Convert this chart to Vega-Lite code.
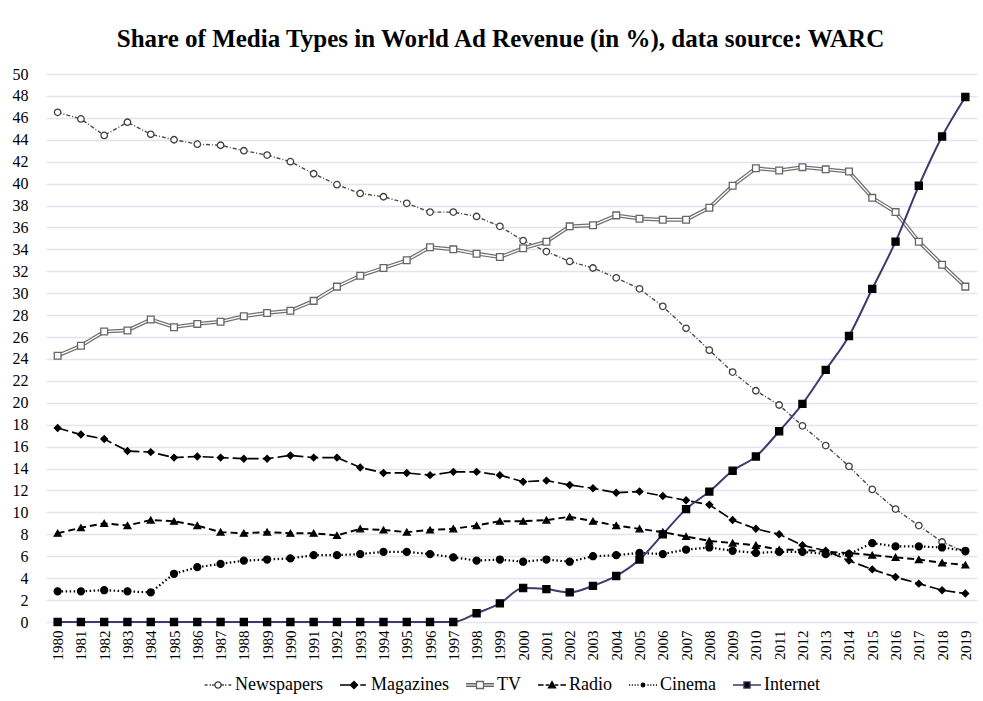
{
  "$schema": "https://vega.github.io/schema/vega-lite/v6.json",
  "width": 931,
  "height": 548,
  "autosize": {"type": "none"},
  "padding": {"left": 46, "top": 74, "right": 6, "bottom": 79},
  "background": "white",
  "title": {
    "text": "Share of Media Types in World Ad Revenue (in %), data source: WARC",
    "font": "Liberation Serif",
    "fontSize": 25,
    "fontWeight": "bold",
    "color": "#000000",
    "anchor": "middle",
    "baseline": "alphabetic",
    "offset": -6,
    "dx": -11
  },
  "data": {
    "values": [
      {"year": 1980, "Newspapers": 46.5, "Magazines": 17.7, "TV": 24.3, "Radio": 8.1, "Cinema": 2.8, "Internet": 0},
      {"year": 1981, "Newspapers": 45.9, "Magazines": 17.1, "TV": 25.2, "Radio": 8.6, "Cinema": 2.8, "Internet": 0},
      {"year": 1982, "Newspapers": 44.4, "Magazines": 16.7, "TV": 26.5, "Radio": 9.0, "Cinema": 2.9, "Internet": 0},
      {"year": 1983, "Newspapers": 45.6, "Magazines": 15.6, "TV": 26.6, "Radio": 8.8, "Cinema": 2.8, "Internet": 0},
      {"year": 1984, "Newspapers": 44.5, "Magazines": 15.5, "TV": 27.6, "Radio": 9.3, "Cinema": 2.7, "Internet": 0},
      {"year": 1985, "Newspapers": 44.0, "Magazines": 15.0, "TV": 26.9, "Radio": 9.2, "Cinema": 4.4, "Internet": 0},
      {"year": 1986, "Newspapers": 43.6, "Magazines": 15.1, "TV": 27.2, "Radio": 8.8, "Cinema": 5.0, "Internet": 0},
      {"year": 1987, "Newspapers": 43.5, "Magazines": 15.0, "TV": 27.4, "Radio": 8.2, "Cinema": 5.3, "Internet": 0},
      {"year": 1988, "Newspapers": 43.0, "Magazines": 14.9, "TV": 27.9, "Radio": 8.1, "Cinema": 5.6, "Internet": 0},
      {"year": 1989, "Newspapers": 42.6, "Magazines": 14.9, "TV": 28.2, "Radio": 8.2, "Cinema": 5.7, "Internet": 0},
      {"year": 1990, "Newspapers": 42.0, "Magazines": 15.2, "TV": 28.4, "Radio": 8.1, "Cinema": 5.8, "Internet": 0},
      {"year": 1991, "Newspapers": 40.9, "Magazines": 15.0, "TV": 29.3, "Radio": 8.1, "Cinema": 6.1, "Internet": 0},
      {"year": 1992, "Newspapers": 39.9, "Magazines": 15.0, "TV": 30.6, "Radio": 7.9, "Cinema": 6.1, "Internet": 0},
      {"year": 1993, "Newspapers": 39.1, "Magazines": 14.1, "TV": 31.6, "Radio": 8.5, "Cinema": 6.2, "Internet": 0},
      {"year": 1994, "Newspapers": 38.8, "Magazines": 13.6, "TV": 32.3, "Radio": 8.4, "Cinema": 6.4, "Internet": 0},
      {"year": 1995, "Newspapers": 38.2, "Magazines": 13.6, "TV": 33.0, "Radio": 8.2, "Cinema": 6.4, "Internet": 0},
      {"year": 1996, "Newspapers": 37.4, "Magazines": 13.4, "TV": 34.2, "Radio": 8.4, "Cinema": 6.2, "Internet": 0},
      {"year": 1997, "Newspapers": 37.4, "Magazines": 13.7, "TV": 34.0, "Radio": 8.5, "Cinema": 5.9, "Internet": 0},
      {"year": 1998, "Newspapers": 37.0, "Magazines": 13.7, "TV": 33.6, "Radio": 8.8, "Cinema": 5.6, "Internet": 0.8},
      {"year": 1999, "Newspapers": 36.1, "Magazines": 13.4, "TV": 33.3, "Radio": 9.2, "Cinema": 5.7, "Internet": 1.7},
      {"year": 2000, "Newspapers": 34.8, "Magazines": 12.8, "TV": 34.1, "Radio": 9.2, "Cinema": 5.5, "Internet": 3.1},
      {"year": 2001, "Newspapers": 33.8, "Magazines": 12.9, "TV": 34.7, "Radio": 9.3, "Cinema": 5.7, "Internet": 3.0},
      {"year": 2002, "Newspapers": 32.9, "Magazines": 12.5, "TV": 36.1, "Radio": 9.6, "Cinema": 5.5, "Internet": 2.7},
      {"year": 2003, "Newspapers": 32.3, "Magazines": 12.2, "TV": 36.2, "Radio": 9.2, "Cinema": 6.0, "Internet": 3.3},
      {"year": 2004, "Newspapers": 31.4, "Magazines": 11.8, "TV": 37.1, "Radio": 8.8, "Cinema": 6.1, "Internet": 4.2},
      {"year": 2005, "Newspapers": 30.4, "Magazines": 11.9, "TV": 36.8, "Radio": 8.5, "Cinema": 6.3, "Internet": 5.7},
      {"year": 2006, "Newspapers": 28.8, "Magazines": 11.5, "TV": 36.7, "Radio": 8.2, "Cinema": 6.2, "Internet": 8.0},
      {"year": 2007, "Newspapers": 26.8, "Magazines": 11.1, "TV": 36.7, "Radio": 7.8, "Cinema": 6.6, "Internet": 10.3},
      {"year": 2008, "Newspapers": 24.8, "Magazines": 10.7, "TV": 37.8, "Radio": 7.4, "Cinema": 6.8, "Internet": 11.9},
      {"year": 2009, "Newspapers": 22.8, "Magazines": 9.3, "TV": 39.8, "Radio": 7.2, "Cinema": 6.5, "Internet": 13.8},
      {"year": 2010, "Newspapers": 21.1, "Magazines": 8.5, "TV": 41.4, "Radio": 7.0, "Cinema": 6.3, "Internet": 15.1},
      {"year": 2011, "Newspapers": 19.8, "Magazines": 8.0, "TV": 41.2, "Radio": 6.6, "Cinema": 6.4, "Internet": 17.4},
      {"year": 2012, "Newspapers": 17.9, "Magazines": 7.0, "TV": 41.5, "Radio": 6.6, "Cinema": 6.4, "Internet": 19.9},
      {"year": 2013, "Newspapers": 16.1, "Magazines": 6.5, "TV": 41.3, "Radio": 6.4, "Cinema": 6.2, "Internet": 23.0},
      {"year": 2014, "Newspapers": 14.2, "Magazines": 5.6, "TV": 41.1, "Radio": 6.3, "Cinema": 6.2, "Internet": 26.1},
      {"year": 2015, "Newspapers": 12.1, "Magazines": 4.8, "TV": 38.7, "Radio": 6.1, "Cinema": 7.2, "Internet": 30.4},
      {"year": 2016, "Newspapers": 10.3, "Magazines": 4.1, "TV": 37.4, "Radio": 5.9, "Cinema": 6.9, "Internet": 34.7},
      {"year": 2017, "Newspapers": 8.8, "Magazines": 3.5, "TV": 34.7, "Radio": 5.7, "Cinema": 6.9, "Internet": 39.8},
      {"year": 2018, "Newspapers": 7.3, "Magazines": 2.9, "TV": 32.6, "Radio": 5.4, "Cinema": 6.8, "Internet": 44.3},
      {"year": 2019, "Newspapers": 6.4, "Magazines": 2.6, "TV": 30.6, "Radio": 5.2, "Cinema": 6.5, "Internet": 47.9}
    ]
  },
  "transform": [
    {"fold": ["Newspapers", "Magazines", "TV", "Radio", "Cinema", "Internet"], "as": ["series", "value"]}
  ],
  "encoding": {
    "x": {
      "field": "year",
      "type": "ordinal",
      "scale": {"type": "point", "padding": 0.5},
      "axis": {
        "title": null,
        "labelAngle": 270,
        "labelFont": "Liberation Serif",
        "labelFontSize": 15,
        "labelColor": "#000000",
        "ticks": false,
        "domain": false,
        "labelPadding": 8
      }
    },
    "y": {
      "field": "value",
      "type": "quantitative",
      "scale": {"domain": [0, 50], "nice": false},
      "axis": {
        "title": null,
        "values": [0, 2, 4, 6, 8, 10, 12, 14, 16, 18, 20, 22, 24, 26, 28, 30, 32, 34, 36, 38, 40, 42, 44, 46, 48, 50],
        "grid": true,
        "gridColor": "#E3E3F3",
        "gridWidth": 1.5,
        "domain": false,
        "ticks": false,
        "labelFont": "Liberation Serif",
        "labelFontSize": 16,
        "labelColor": "#000000",
        "labelPadding": 18
      }
    }
  },
  "layer": [
    {
      "transform": [{"filter": {"field": "series", "oneOf": ["Newspapers", "Magazines", "Radio", "Cinema"]}}],
      "mark": {"type": "line"},
      "encoding": {
        "color": {"field": "series", "type": "nominal", "scale": {"domain": ["Newspapers", "Magazines", "Radio", "Cinema"], "range": ["#4a4a4a", "#000000", "#000000", "#000000"]}, "legend": null},
        "strokeDash": {"field": "series", "type": "nominal", "scale": {"domain": ["Newspapers", "Magazines", "Radio", "Cinema"], "range": [[4, 2, 1, 2], [11, 4], [7, 4], [1.5, 2.5]]}, "legend": null},
        "strokeWidth": {"field": "series", "type": "ordinal", "scale": {"domain": ["Newspapers", "Magazines", "Radio", "Cinema"], "range": [1.4, 2.2, 1.6, 1.8]}, "legend": null}
      }
    },
    {
      "transform": [{"filter": {"field": "series", "equal": "TV"}}],
      "mark": {"type": "line", "color": "#707070", "strokeWidth": 3.8}
    },
    {
      "transform": [{"filter": {"field": "series", "equal": "TV"}}],
      "mark": {"type": "line", "color": "#ffffff", "strokeWidth": 1.3}
    },
    {
      "transform": [{"filter": {"field": "series", "equal": "Internet"}}],
      "mark": {"type": "line", "color": "#3C3A6E", "strokeWidth": 2, "interpolate": "monotone"}
    },
    {
      "mark": {"type": "point", "opacity": 1, "strokeWidth": 1.3},
      "encoding": {
        "shape": {"field": "series", "type": "nominal", "scale": {"domain": ["Newspapers", "Magazines", "TV", "Radio", "Cinema", "Internet"], "range": ["circle", "diamond", "square", "triangle-up", "circle", "square"]}, "legend": null},
        "fill": {"field": "series", "type": "nominal", "scale": {"domain": ["Newspapers", "Magazines", "TV", "Radio", "Cinema", "Internet"], "range": ["#ffffff", "#000000", "#ffffff", "#000000", "#000000", "#000000"]}, "legend": null},
        "stroke": {"field": "series", "type": "nominal", "scale": {"domain": ["Newspapers", "Magazines", "TV", "Radio", "Cinema", "Internet"], "range": ["#404040", "#000000", "#666666", "#000000", "#000000", "#000000"]}, "legend": null},
        "size": {"field": "series", "type": "ordinal", "scale": {"domain": ["Newspapers", "Magazines", "TV", "Radio", "Cinema", "Internet"], "range": [42, 50, 60, 40, 18, 55]}, "legend": null}
      }
    },
    {
      "transform": [{"filter": "datum.value < -100"}],
      "mark": {"type": "point", "opacity": 1, "strokeWidth": 1.3},
      "encoding": {
        "shape": {
          "field": "series", "type": "nominal",
          "scale": {
            "domain": ["Newspapers", "Magazines", "TV", "Radio", "Cinema", "Internet"],
            "range": [
              "M-0.95,0H-0.75M-0.6,0H-0.5M-0.42,0H-0.26M0.26,0H0.42M0.5,0H0.6M0.75,0H0.95M-0.22,0A0.22,0.22 0 1,0 0.22,0A0.22,0.22 0 1,0 -0.22,0Z",
              "M-1,0H-0.3M0.45,0H0.85M0,-0.26L0.26,0L0,0.26L-0.26,0Z",
              "M-1,-0.09H-0.25M-1,0.09H-0.25M0.25,-0.09H1M0.25,0.09H1M-0.25,-0.25H0.25V0.25H-0.25Z",
              "M-1,0H-0.6M-0.45,0H-0.22M0.22,0H0.45M0.6,0H1M0,-0.24L0.25,0.2L-0.25,0.2Z",
              "M-1,0H-0.92M-0.8,0H-0.72M-0.6,0H-0.52M-0.4,0H-0.32M0.32,0H0.4M0.52,0H0.6M0.72,0H0.8M0.92,0H1M-0.13,0A0.13,0.13 0 1,0 0.13,0A0.13,0.13 0 1,0 -0.13,0Z",
              "M-1,0H-0.22M0.22,0H1M-0.22,-0.22H0.22V0.22H-0.22Z"
            ]
          },
          "legend": {"title": null}
        },
        "fill": {"field": "series", "type": "nominal", "scale": {"domain": ["Newspapers", "Magazines", "TV", "Radio", "Cinema", "Internet"], "range": ["#ffffff", "#000000", "#ffffff", "#000000", "#000000", "#000000"]}, "legend": {"title": null}},
        "stroke": {"field": "series", "type": "nominal", "scale": {"domain": ["Newspapers", "Magazines", "TV", "Radio", "Cinema", "Internet"], "range": ["#404040", "#000000", "#666666", "#000000", "#000000", "#3C3A6E"]}, "legend": {"title": null}}
      }
    }
  ],
  "resolve": {
    "scale": {"color": "independent", "shape": "independent", "fill": "independent", "stroke": "independent", "size": "independent", "strokeDash": "independent", "strokeWidth": "independent"}
  },
  "config": {
    "view": {"stroke": null},
    "font": "Liberation Serif",
    "legend": {
      "orient": "bottom",
      "direction": "horizontal",
      "offset": 10,
      "labelFont": "Liberation Serif",
      "labelFontSize": 18,
      "labelColor": "#000000",
      "labelOffset": 2,
      "columnPadding": 14,
      "symbolSize": 784,
      "symbolStrokeWidth": 1.3,
      "layout": {"bottom": {"anchor": "middle"}}
    }
  }
}
